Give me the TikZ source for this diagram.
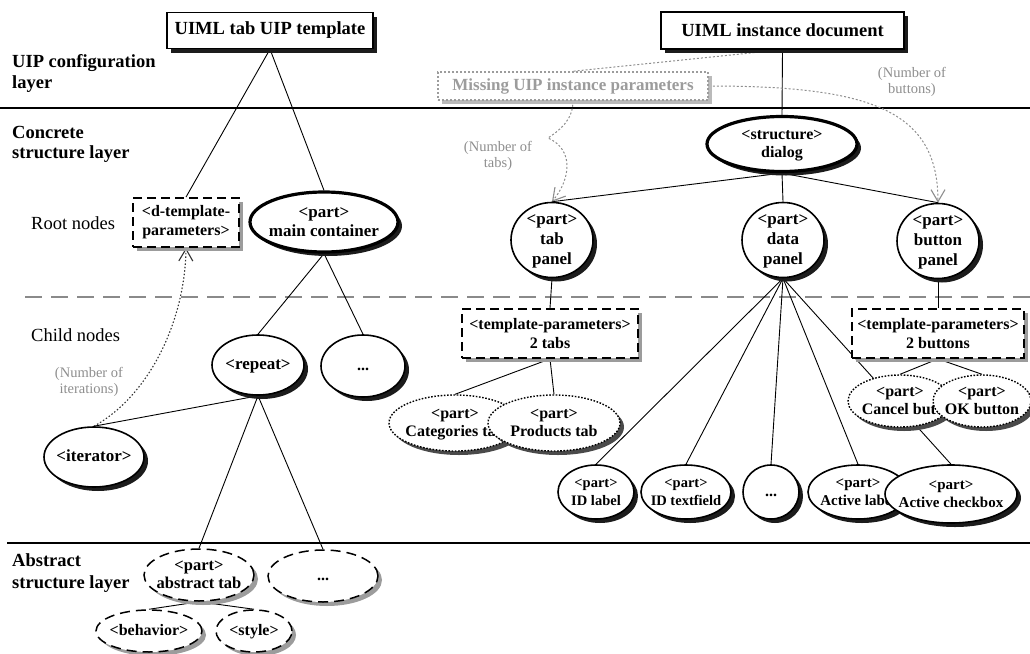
\documentclass[tikz,border=0pt]{standalone}
\usepackage{fontspec}
\setmainfont{Liberation Serif}
\usetikzlibrary{shapes.geometric,shadows,arrows.meta}

\pgfdeclarelayer{links}
\pgfsetlayers{links,main}

\definecolor{shadedark}{HTML}{1C1C1C}
\definecolor{shademid}{HTML}{4A4A4A}
\definecolor{shadelight}{HTML}{9C9C9C}
\definecolor{hintgray}{HTML}{8E8E8E}
\definecolor{layergray}{HTML}{8A8A8A}

% centred text block of zero size, so that the shape keeps its given size
\newcommand\inside[1]{\makebox[0pt]{\raisebox{-0.3em}{\begin{tabular}{@{}c@{}}#1\end{tabular}}}}

\tikzset{
  fs/.style 2 args={font=\bfseries\fontsize{#1}{#2}\selectfont},
  plainfs/.style 2 args={font=\fontsize{#1}{#2}\selectfont},
  castshadow/.style={drop shadow={shadow xshift=4pt,shadow yshift=-4pt,fill=#1,opacity=1}},
  ovalnode/.style 2 args={ellipse,inner sep=0pt,minimum width=#1pt,minimum height=#2pt,
    text height=0pt,text depth=0pt,fill=white,draw},
  solidoval/.style={line width=1.6pt,castshadow=shadedark},
  thickoval/.style={line width=3.2pt,castshadow=shadedark},
  dashoval/.style={line width=1.5pt,dash pattern=on 10pt off 6pt,castshadow=shadelight},
  dotoval/.style={line width=1.4pt,dash pattern=on 1.6pt off 1.6pt,castshadow=shademid},
  rbox/.style 2 args={rectangle,inner sep=0pt,minimum width=#1pt,minimum height=#2pt,
    fill=white,draw,align=center},
  titlebox/.style={line width=1.4pt,castshadow=shadedark},
  parambox/.style={line width=1.8pt,dash pattern=on 9pt off 5pt,castshadow=shadelight},
  hintbox/.style={draw=shadelight,line width=1.5pt,dash pattern=on 2pt off 2pt,
    castshadow=shadelight!70,text=shadelight},
  layertitle/.style={fs={18.5}{21},anchor=base west,inner sep=0pt},
  sublayer/.style={plainfs={18.5}{21},anchor=base west,inner sep=0pt},
  hintlabel/.style={plainfs={14.5}{16},text=hintgray,align=center,inner sep=0pt},
  treelink/.style={line width=0.9pt},
  hintlink/.style={hintgray,line width=1pt,dash pattern=on 2pt off 2pt},
  barb/.style={-{Straight Barb[length=12pt,width=14pt,line width=1.1pt]}},
}

\begin{document}
\begin{tikzpicture}[x=1pt,y=-1pt]
\useasboundingbox (0,0) rectangle (1030,653);

% ---------- layer names ----------
\node[layertitle] (uipA) at (12,67) {UIP configuration};
\node[layertitle] (uipB) at (12,88) {layer};
\node[layertitle] (conA) at (12,138) {Concrete};
\node[layertitle] (conB) at (12,158) {structure layer};
\node[sublayer] (rootlbl) at (31,229) {Root nodes};
\node[sublayer] (childlbl) at (31,341) {Child nodes};
\node[layertitle] (absA) at (12,566) {Abstract};
\node[layertitle] (absB) at (12,588) {structure layer};

% ---------- documents ----------
\node[rbox={206}{36},titlebox,fs={18.5}{21}] (tmpl) at (270,30.5) {UIML tab UIP template};
\node[rbox={243}{37},titlebox,fs={18.5}{21}] (inst) at (782.5,30.5) {UIML instance document};
\node[rbox={270}{28},hintbox,fs={17}{19}] (missing) at (573,86) {Missing UIP instance parameters};

% ---------- template tree ----------
\node[rbox={106}{49},parambox,fs={16}{19}] (dparams) at (186,222.5) {<d-template-\\parameters>};
\node[ovalnode={148}{60},thickoval,fs={17}{19}] (maincont) at (324,222) {\inside{<part>\\main container}};
\node[ovalnode={92}{60},solidoval,fs={17}{19}] (repeat) at (258,365) {\inside{<repeat>}};
\node[ovalnode={84}{62},solidoval,fs={16}{19}] (dotsA) at (363,366) {\inside{...}};
\node[ovalnode={100}{60},solidoval,fs={17}{19}] (iterator) at (94,457) {\inside{<iterator>}};
\node[ovalnode={110}{52},dashoval,fs={16.5}{18}] (abstab) at (199,575) {\inside{<part>\\abstract tab}};
\node[ovalnode={110}{52},dashoval,fs={16}{18}] (dotsB) at (323,576) {\inside{...}};
\node[ovalnode={106}{42},dashoval,fs={16}{18}] (behavior) at (149,631) {\inside{<behavior>}};
\node[ovalnode={76}{42},dashoval,fs={16}{18}] (style) at (254,631) {\inside{<style>}};

% ---------- instance tree ----------
\node[ovalnode={150}{55},thickoval,fs={16}{18}] (dialog) at (782,144) {\inside{<structure>\\dialog}};
\node[ovalnode={82}{75},solidoval,fs={17}{20}] (tabpanel) at (552,240) {\inside{<part>\\tab\\panel}};
\node[ovalnode={82}{75},solidoval,fs={17}{20}] (datapanel) at (783,240) {\inside{<part>\\data\\panel}};
\node[ovalnode={82}{75},solidoval,fs={17}{20}] (btnpanel) at (938,241) {\inside{<part>\\button\\panel}};
\node[rbox={176}{49},parambox,fs={16}{19}] (tabparams) at (550,333.5) {<template-parameters>\\2 tabs};
\node[rbox={172}{49},parambox,fs={16}{19}] (btnparams) at (938,333.5) {<template-parameters>\\2 buttons};
\node[ovalnode={132}{56},dotoval,fs={16}{18}] (cattab) at (455,423) {\inside{<part>\\Categories tab}};
\node[ovalnode={132}{56},dotoval,fs={16}{18}] (prodtab) at (554,423) {\inside{<part>\\Products tab}};
\node[ovalnode={104}{52},dotoval,fs={16}{18}] (cancel) at (900,401) {\inside{<part>\\\hspace*{20pt}Cancel button}};
\node[ovalnode={98}{52},dotoval,fs={16}{18}] (okbtn) at (982,401) {\inside{<part>\\OK button}};
\node[ovalnode={76}{54},solidoval,fs={14.5}{18}] (idlabel) at (596,492) {\inside{<part>\\ID label}};
\node[ovalnode={90}{54},solidoval,fs={14.5}{18}] (idtext) at (686,492) {\inside{<part>\\ID textfield}};
\node[ovalnode={56}{54},solidoval,fs={16}{18}] (dotsC) at (771,492) {\inside{...}};
\node[ovalnode={100}{54},solidoval,fs={15}{18}] (actlabel) at (858,492) {\inside{<part>\\Active label}};
\node[ovalnode={132}{58},solidoval,fs={15}{18}] (actcheck) at (951,494) {\inside{<part>\\Active checkbox}};

% ---------- parameter hints ----------
\node[hintlabel] (itershint) at (89,382) {(Number of\\iterations)};
\node[hintlabel] (tabshint) at (498,156) {(Number of\\tabs)};
\node[hintlabel] (btnshint) at (912,82) {(Number of\\buttons)};
\coordinate (tabsbend) at (548,138);

\begin{pgfonlayer}{links}
  % layer separators
  \draw[line width=1.5pt] (0,108) -- (1030,108);
  \draw[layergray,line width=1.8pt,dash pattern=on 17pt off 9pt] (25,297) -- (1030,297);
  \draw[line width=1.5pt] (7,543) -- (1030,543);

  % template tree
  \draw[treelink] (tmpl.south) -- (dparams.north);
  \draw[treelink] (tmpl.south) -- (maincont.north);
  \draw[treelink] (maincont.south) -- (repeat.north);
  \draw[treelink] (maincont.south) -- (dotsA.north);
  \draw[treelink] (repeat.south) -- (iterator.north);
  \draw[treelink] (repeat.south) -- (abstab.north);
  \draw[treelink] (repeat.south) -- (dotsB.north);
  \draw[treelink] (abstab.south) -- (behavior.north);
  \draw[treelink] (abstab.south) -- (style.north);
  \draw[line width=1.1pt,black!80,dash pattern=on 1.5pt off 2pt,barb]
    (iterator.north) .. controls (150,395) and (185,320) .. (dparams.south);

  % instance tree
  \draw[treelink] (inst.south) -- (dialog.north);
  \draw[treelink] (dialog.south) -- (tabpanel.north);
  \draw[treelink] (dialog.south) -- (datapanel.north);
  \draw[treelink] (dialog.south) -- (btnpanel.north);
  \draw[treelink] (tabpanel.south) -- (tabparams.north);
  \draw[treelink] (btnpanel.south) -- (btnparams.north);
  \draw[treelink] (tabparams.south) -- (cattab.north);
  \draw[treelink] (tabparams.south) -- (prodtab.north);
  \draw[treelink] (btnparams.south) -- (cancel.north);
  \draw[treelink] (btnparams.south) -- (okbtn.north);
  \draw[treelink] (datapanel.south) -- (idlabel.north);
  \draw[treelink] (datapanel.south) -- (idtext.north);
  \draw[treelink] (datapanel.south) -- (dotsC.north);
  \draw[treelink] (datapanel.south) -- (actlabel.north);
  \draw[treelink] (datapanel.south) -- (actcheck.north);

  % missing parameters
  \draw[hintlink] (inst.south) -- (missing.north);
  \draw[hintlink,barb] (missing.south) .. controls (573,120) and (560,130) .. (tabsbend)
    .. controls (575,150) and (570,180) .. (tabpanel.north);
  \draw[hintlink,barb] (missing.east) .. controls (870,86) and (938,110) .. (btnpanel.north);
\end{pgfonlayer}
\end{tikzpicture}
\end{document}
